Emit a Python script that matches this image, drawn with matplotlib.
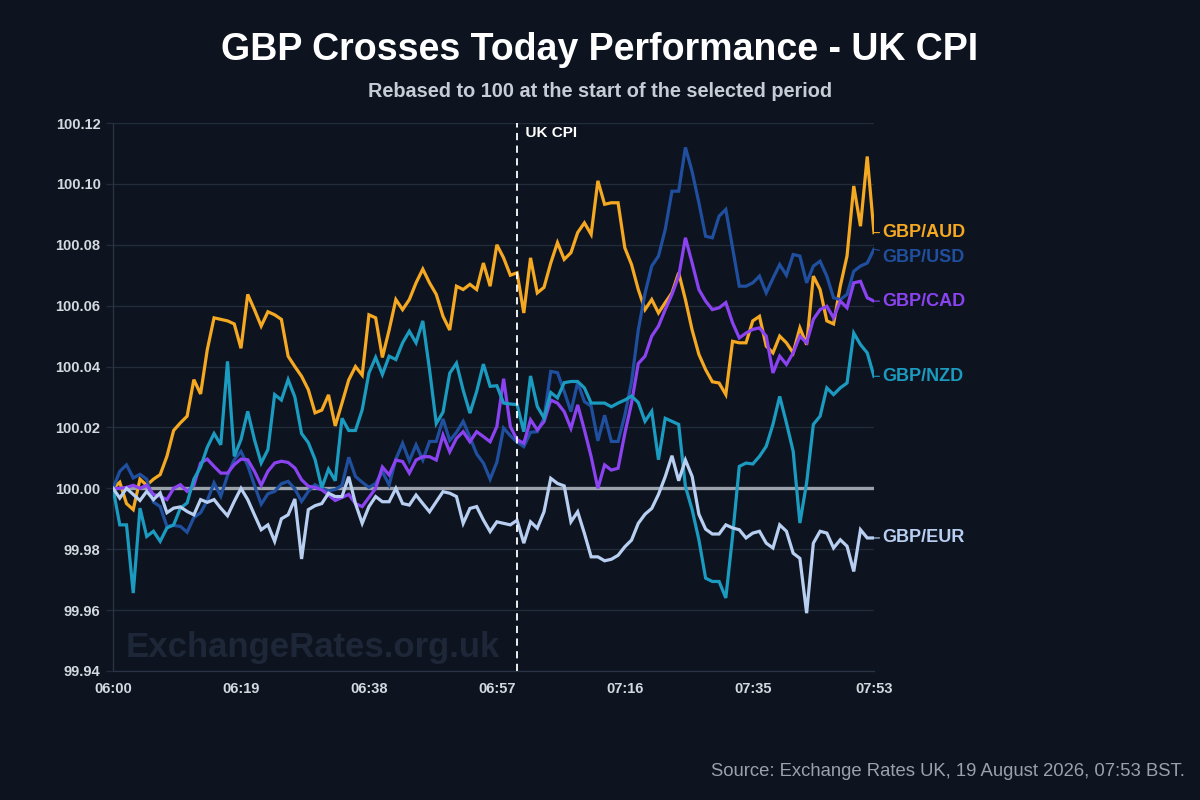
import numpy as np
import matplotlib
matplotlib.use("Agg")
import matplotlib.pyplot as plt

plt.rcParams['font.family'] = ['Liberation Sans', 'DejaVu Sans']

# minutes after 06:00, one point per minute up to 07:53
minutes = np.arange(114)
tick_minutes = [0, 19, 38, 57, 76, 95, 113]
tick_labels = ["06:00", "06:19", "06:38", "06:57", "07:16", "07:35", "07:53"]
cpi_minute = 60

gbp_aud = [
    100.000, 100.002, 99.995, 99.993, 100.003, 100.001, 100.003, 100.0045, 100.0105, 100.019,
    100.0215, 100.0237, 100.0357, 100.031, 100.0456, 100.056, 100.0555, 100.055, 100.054, 100.046,
    100.0637, 100.0587, 100.0533, 100.058, 100.057, 100.0555, 100.0434, 100.040, 100.0368, 100.0324,
    100.0248, 100.0257, 100.0307, 100.0205, 100.028, 100.0356, 100.040, 100.0372, 100.057, 100.056,
    100.043, 100.052, 100.062, 100.0587, 100.062, 100.0675, 100.072, 100.0675, 100.0637, 100.0565,
    100.052, 100.0664, 100.0653, 100.067, 100.0653, 100.074, 100.0664, 100.080, 100.0757, 100.070,
    100.0708, 100.0576, 100.0757, 100.0642, 100.066, 100.074, 100.0807, 100.0752, 100.0774, 100.084,
    100.0872, 100.0834, 100.101, 100.0933, 100.0938, 100.0938, 100.079, 100.0735, 100.0653, 100.0587,
    100.062, 100.0576, 100.061, 100.0642, 100.0708, 100.062, 100.052, 100.044, 100.039, 100.035,
    100.0346, 100.0308, 100.0483, 100.0478, 100.0478, 100.055, 100.0565, 100.0467, 100.0445, 100.050,
    100.0478, 100.0445, 100.0527, 100.0472, 100.0697, 100.0653, 100.055, 100.054, 100.0664, 100.0763,
    100.0993, 100.0861, 100.109, 100.084,
]

gbp_usd = [
    100.000, 100.0056, 100.0077, 100.0034, 100.0046, 100.003, 99.9955, 99.994, 99.9875, 99.9878,
    99.9875, 99.9856, 99.9904, 99.992, 99.996, 100.0018, 99.9974, 100.0042, 100.0094, 100.0121,
    100.0075, 100.001, 99.9948, 99.9982, 99.999, 100.0015, 100.0023, 99.9998, 99.9957, 99.999,
    100.0012, 100.000, 99.9992, 99.9996, 100.001, 100.0102, 100.0039, 100.002, 100.0003, 100.0016,
    100.0055, 100.0011, 100.0096, 100.0148, 100.009, 100.0143, 100.0093, 100.0154, 100.0154, 100.0228,
    100.0157, 100.0184, 100.022, 100.0168, 100.0113, 100.0083, 100.003, 100.0086, 100.0198, 100.0173,
    100.0152, 100.0137, 100.0184, 100.0186, 100.023, 100.0384, 100.038, 100.0318, 100.0252, 100.0348,
    100.0285, 100.027, 100.0156, 100.024, 100.0154, 100.0154, 100.024, 100.035, 100.052, 100.064,
    100.073, 100.0763, 100.085, 100.0976, 100.0976, 100.112, 100.104, 100.0938, 100.0828, 100.0823,
    100.0894, 100.0916, 100.079, 100.0664, 100.0664, 100.0675, 100.0697, 100.0642, 100.069, 100.0735,
    100.070, 100.0768, 100.0763, 100.0675, 100.073, 100.0746, 100.0697, 100.0626, 100.062, 100.0637,
    100.0713, 100.073, 100.074, 100.0785,
]

gbp_cad = [
    100.000, 100.000, 100.0003, 100.001, 100.000, 100.001, 99.998, 99.9974, 99.9963, 100.000,
    100.0012, 99.999, 100.001, 100.0083, 100.0096, 100.0072, 100.005, 100.005, 100.0078, 100.0096,
    100.0094, 100.0056, 100.001, 100.0056, 100.0083, 100.0089, 100.0085, 100.0067, 100.0028, 100.0007,
    100.0003, 99.9995, 99.9978, 99.996, 99.997, 99.998, 99.995, 99.994, 99.997, 100.000,
    100.007, 100.0044, 100.0093, 100.0088, 100.005, 100.0093, 100.0104, 100.0104, 100.0093, 100.0175,
    100.012, 100.0164, 100.0186, 100.0153, 100.0186, 100.017, 100.0153, 100.0203, 100.036, 100.0203,
    100.016, 100.0148, 100.0225, 100.0192, 100.0219, 100.029, 100.028, 100.0252, 100.0197, 100.0274,
    100.0192, 100.0104, 100.000, 100.0077, 100.006, 100.0066, 100.018, 100.028, 100.041, 100.0434,
    100.050, 100.0533, 100.0587, 100.0637, 100.0697, 100.0823, 100.074, 100.0653, 100.0615, 100.0587,
    100.0593, 100.061, 100.0544, 100.0494, 100.051, 100.0522, 100.0527, 100.050, 100.0379, 100.0434,
    100.0407, 100.0445, 100.050, 100.0478, 100.0555, 100.0587, 100.0598, 100.056, 100.0615, 100.0593,
    100.0675, 100.068, 100.0626, 100.0615,
]

gbp_nzd = [
    100.000, 99.988, 99.988, 99.9656, 99.9935, 99.9842, 99.9859, 99.9826, 99.987, 99.988,
    99.9935, 99.9952, 100.003, 100.007, 100.0135, 100.018, 100.0143, 100.0417, 100.0105, 100.016,
    100.0253, 100.016, 100.0083, 100.0127, 100.0308, 100.029, 100.0357, 100.030, 100.018, 100.015,
    100.0095, 100.0002, 100.0063, 100.0025, 100.023, 100.019, 100.019, 100.0258, 100.0379, 100.043,
    100.0374, 100.0434, 100.0423, 100.0478, 100.0516, 100.0478, 100.055, 100.039, 100.0213, 100.025,
    100.0378, 100.0411, 100.0322, 100.0247, 100.0318, 100.0408, 100.0335, 100.0337, 100.028, 100.0277,
    100.0275, 100.0186, 100.0369, 100.0269, 100.0231, 100.0315, 100.0297, 100.0347, 100.0351, 100.0351,
    100.033, 100.028, 100.028, 100.028, 100.0268, 100.028, 100.029, 100.0303, 100.0282, 100.022,
    100.0253, 100.0094, 100.023, 100.022, 100.021, 100.0006, 99.993, 99.9831, 99.9705, 99.9694,
    99.9694, 99.964, 99.9842, 100.0072, 100.0083, 100.008, 100.0105, 100.0138, 100.021, 100.0302,
    100.0215, 100.0122, 99.9886, 100.0018, 100.021, 100.0237, 100.033, 100.0308, 100.033, 100.0346,
    100.051, 100.0472, 100.0445, 100.0368,
]

gbp_eur = [
    100.000, 99.9968, 100.000, 99.998, 99.996, 99.999, 99.9963, 99.9985, 99.992, 99.9935,
    99.9939, 99.9924, 99.9913, 99.9963, 99.9954, 99.9963, 99.9935, 99.991, 99.9957, 100.000,
    99.9963, 99.9913, 99.9864, 99.988, 99.9826, 99.990, 99.9913, 99.9965, 99.9768, 99.993,
    99.9943, 99.995, 99.9984, 99.9973, 99.9973, 100.0038, 99.995, 99.9885, 99.994, 99.9973,
    99.9956, 99.9956, 100.000, 99.995, 99.9945, 99.9978, 99.995, 99.9923, 99.9956, 99.9989,
    99.9984, 99.9973, 99.9885, 99.9934, 99.994, 99.9896, 99.9858, 99.989, 99.9885, 99.988,
    99.9895, 99.982, 99.989, 99.9869, 99.9923, 100.0033, 100.0016, 100.0008, 99.989, 99.9923,
    99.9852, 99.9775, 99.9775, 99.9762, 99.9767, 99.978, 99.9808, 99.983, 99.9885, 99.9915,
    99.9934, 99.998, 100.0038, 100.0107, 100.0025, 100.0093, 100.0039, 99.9915, 99.9866, 99.985,
    99.985, 99.988, 99.987, 99.9864, 99.9837, 99.9853, 99.9859, 99.982, 99.9804, 99.988,
    99.9859, 99.9787, 99.977, 99.959, 99.982, 99.9859, 99.9853, 99.9804, 99.9831, 99.981,
    99.9727, 99.9864, 99.9837, 99.9837,
]

pairs = ["GBP/AUD", "GBP/USD", "GBP/CAD", "GBP/NZD", "GBP/EUR"]
series = [gbp_aud, gbp_usd, gbp_cad, gbp_nzd, gbp_eur]
colors = ["#f5a821", "#1f4f9e", "#8b43f2", "#1c9bc0", "#b8cff2"]
label_nudge = [0, -6, 0, 0, 0]  # points, to keep end labels apart

bg = "#0d1420"
grid_col = "#222c3b"

fig = plt.figure(figsize=(12, 8), dpi=100, facecolor=bg)
ax = fig.add_axes([0.0942, 0.16125, 0.6341, 0.685])
ax.set_facecolor(bg)

ax.set_ylim(99.94, 100.12)
ax.set_xlim(0, 113)
ax.set_yticks(np.arange(99.94, 100.1201, 0.02))
ax.yaxis.set_major_formatter(matplotlib.ticker.FormatStrFormatter('%.2f'))
ax.set_xticks(tick_minutes)
ax.set_xticklabels(tick_labels)
ax.grid(axis='y', color=grid_col, lw=0.9)
ax.set_axisbelow(True)
ax.tick_params(axis='y', colors=grid_col, length=5, width=0.9, pad=4, labelcolor="#d4d8df", labelsize=10.5)
ax.tick_params(axis='x', length=0, pad=8, labelcolor="#d4d8df", labelsize=10.5)
for lab in ax.get_xticklabels() + ax.get_yticklabels():
    lab.set_fontweight('bold')
for side in ['top', 'right']:
    ax.spines[side].set_visible(False)
for side in ['left', 'bottom']:
    ax.spines[side].set_color("#2a3444")
    ax.spines[side].set_linewidth(0.9)

# watermark
ax.text(0.017, 0.042, "ExchangeRates.org.uk", transform=ax.transAxes, fontsize=25,
        fontweight='bold', color="#1e2737", va='center', ha='left', zorder=1)

# rebase line
ax.axhline(100, color="#9ba1aa", lw=2.4, zorder=2)

for name, vals, c, nudge in zip(pairs, series, colors, label_nudge):
    ax.plot(minutes, vals, color=c, lw=2.3, zorder=3, solid_joinstyle='miter')
    ax.annotate(name, xy=(minutes[-1], vals[-1]), xytext=(6, nudge), textcoords='offset points',
                color=c, fontsize=13, fontweight='bold', va='center', ha='left',
                annotation_clip=False,
                arrowprops=dict(arrowstyle='-', color=c, lw=0.8, shrinkA=0, shrinkB=0))

# CPI release marker
ax.axvline(cpi_minute, color="white", lw=1.3, ls=(0, (4, 3)), zorder=4)
ax.text(cpi_minute, 0.982, "  UK CPI", transform=ax.get_xaxis_transform(), color="white",
        fontsize=11, fontweight='bold', va='center', ha='left')

fig.text(0.5, 0.938, "GBP Crosses Today Performance - UK CPI", ha='center', va='center',
         color="white", fontsize=27, fontweight='bold')
fig.text(0.5, 0.886, "Rebased to 100 at the start of the selected period", ha='center', va='center',
         color="#c7ccd6", fontsize=14.3, fontweight='bold')
fig.text(0.9875, 0.036, "Source: Exchange Rates UK, 19 August 2026, 07:53 BST.", ha='right',
         va='center', color="#9aa1ab", fontsize=13.3)

fig.savefig("out.png", dpi=100, facecolor=bg)
